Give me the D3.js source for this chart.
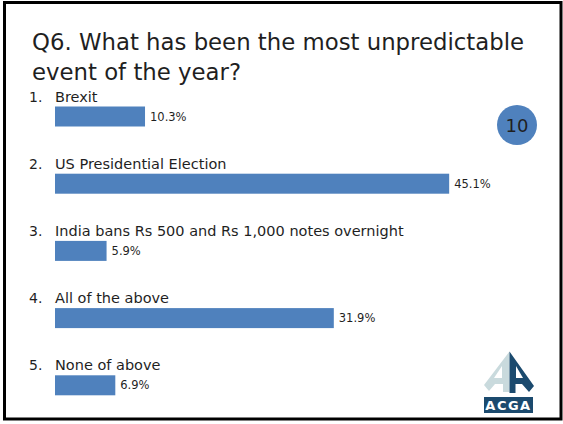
<!DOCTYPE html>
<html>
<head>
<meta charset="utf-8">
<script src="https://cdn.jsdelivr.net/npm/d3@7"></script>
<style>
  html, body { margin: 0; padding: 0; background: #ffffff; }
  svg { display: block; }
  text { font-family: "DejaVu Sans", "Noto Sans", sans-serif; fill: #1f1f1f; }
</style>
</head>
<body>
<svg id="chart" width="563" height="424"></svg>
<script>
// Survey answers and their share of responses (%)
const numbers = ["1.", "2.", "3.", "4.", "5."];
const categories = [
  "Brexit",
  "US Presidential Election",
  "India bans Rs 500 and Rs 1,000 notes overnight",
  "All of the above",
  "None of above"
];
const values = [10.3, 45.1, 5.9, 31.9, 6.9];
const titleLines = ["Q6. What has been the most unpredictable", "event of the year?"];
const slideNumber = "10";

const svg = d3.select("#chart");
const barColor = "#4f81bd";

// Slide frame
svg.append("rect")
  .attr("x", 4.5).attr("y", 2.5)
  .attr("width", 556.5).attr("height", 416.5)
  .attr("fill", "none").attr("stroke", "#000").attr("stroke-width", 3);

// Title
const title = svg.append("text").attr("font-size", 22.8);
titleLines.forEach((t, i) => {
  title.append("tspan").attr("x", 32).attr("y", 50 + i * 30).text(t);
});

// Scales: each category gets one band holding its label and bar
const y = d3.scaleBand().domain(categories).range([86.5, 422.5]);
const x = d3.scaleLinear().domain([0, 50]).range([55, 492]);
const barH = 20;

const rows = svg.append("g").selectAll("g")
  .data(categories.map((c, i) => ({ c, n: numbers[i], v: values[i] })))
  .join("g")
  .attr("transform", d => `translate(0,${y(d.c)})`);

rows.append("text")
  .attr("x", 29).attr("y", 15)
  .attr("font-size", 14)
  .text(d => d.n);

rows.append("text")
  .attr("x", x(0)).attr("y", 15)
  .attr("font-size", 14.5)
  .text(d => d.c);

rows.append("rect")
  .attr("x", x(0)).attr("y", 20)
  .attr("width", d => x(d.v) - x(0)).attr("height", barH)
  .attr("fill", barColor);

rows.append("text")
  .attr("x", d => x(d.v) + 5).attr("y", 20 + barH / 2 + 4)
  .attr("font-size", 11.5)
  .text(d => d.v.toFixed(1) + "%");

// Slide number badge
svg.append("circle").attr("cx", 517).attr("cy", 125).attr("r", 20).attr("fill", barColor);
svg.append("text")
  .attr("x", 517).attr("y", 131.5)
  .attr("text-anchor", "middle").attr("font-size", 18)
  .text(slideNumber);

// ACGA logo
const logo = svg.append("g");
logo.append("path")
  .attr("d", "M509.5,351.5 L484,385 L489,391 L495,384 L503,384 L503,392 L509.5,392 Z")
  .attr("fill", "#c9dadd");
logo.append("path")
  .attr("d", "M509.5,351.5 L534,386 L529,392 L522,384 L515.5,384 L515.5,393 L509.5,393 Z")
  .attr("fill", "#1b4a6e");
logo.append("path")
  .attr("d", "M502,366 L502,378 L494,378 Z")
  .attr("fill", "#ffffff");
logo.append("path")
  .attr("d", "M516,366 L516,378 L523,378 Z")
  .attr("fill", "#ffffff");
logo.append("rect")
  .attr("x", 484).attr("y", 397).attr("width", 49).attr("height", 16)
  .attr("fill", "#1b4a6e");
logo.append("text")
  .attr("x", 508.5).attr("y", 410)
  .attr("text-anchor", "middle")
  .attr("font-size", 13).attr("font-weight", "bold")
  .attr("letter-spacing", 1.5)
  .style("fill", "#ffffff")
  .text("ACGA");
</script>
</body>
</html>
